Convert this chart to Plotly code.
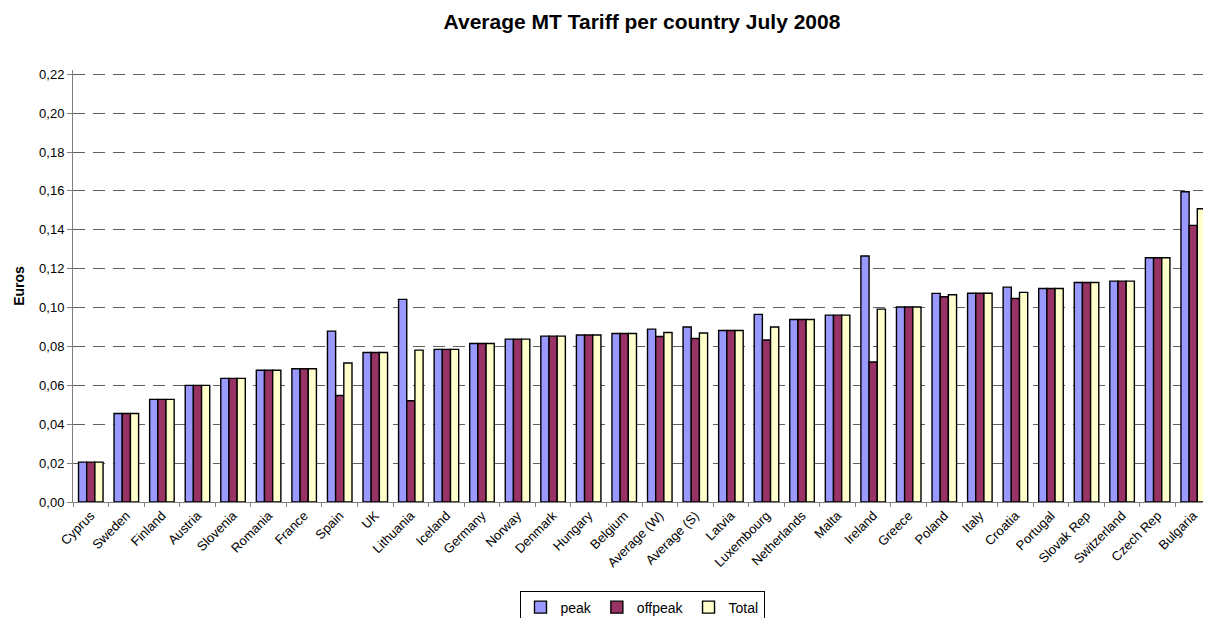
import plotly.graph_objects as go

categories = ["Cyprus", "Sweden", "Finland", "Austria", "Slovenia", "Romania", "France",
              "Spain", "UK", "Lithuania", "Iceland", "Germany", "Norway", "Denmark",
              "Hungary", "Belgium", "Average (W)", "Average (S)", "Latvia", "Luxembourg",
              "Netherlands", "Malta", "Ireland", "Greece", "Poland", "Italy", "Croatia",
              "Portugal", "Slovak Rep", "Switzerland", "Czech Rep", "Bulgaria"]

peak = [0.0205, 0.0455, 0.0528, 0.0600, 0.0636, 0.0678, 0.0685, 0.0879, 0.0769, 0.1042,
        0.0785, 0.0815, 0.0838, 0.0853, 0.0859, 0.0867, 0.0889, 0.0900, 0.0882, 0.0965,
        0.0939, 0.0961, 0.1265, 0.1003, 0.1073, 0.1074, 0.1105, 0.1098, 0.1129, 0.1136,
        0.1256, 0.1596]

offpeak = [0.0205, 0.0455, 0.0528, 0.0600, 0.0636, 0.0678, 0.0685, 0.0548, 0.0769, 0.0521,
           0.0785, 0.0815, 0.0838, 0.0853, 0.0859, 0.0867, 0.0851, 0.0841, 0.0882, 0.0833,
           0.0939, 0.0961, 0.0720, 0.1003, 0.1056, 0.1074, 0.1047, 0.1098, 0.1129, 0.1136,
           0.1256, 0.1423]

total = [0.0205, 0.0455, 0.0528, 0.0600, 0.0636, 0.0678, 0.0685, 0.0715, 0.0769, 0.0781,
         0.0785, 0.0815, 0.0838, 0.0853, 0.0859, 0.0867, 0.0872, 0.0869, 0.0882, 0.0900,
         0.0939, 0.0961, 0.0992, 0.1003, 0.1066, 0.1074, 0.1078, 0.1098, 0.1129, 0.1136,
         0.1256, 0.1508]

series = [("peak", peak, "#9999FF"), ("offpeak", offpeak, "#993366"), ("Total", total, "#FFFFCC")]

FONT = "Liberation Sans, Arial, sans-serif"

# The page body has an 8px default margin; the figure is sized so that it fills the window.
W, H = 1203, 610

fig = go.Figure()
for name, vals, col in series:
    fig.add_trace(go.Bar(
        x=categories, y=vals, name=name,
        marker=dict(color=col, line=dict(color="#000000", width=1.4)),
    ))

fig.update_layout(
    width=W, height=H,
    paper_bgcolor="white", plot_bgcolor="white",
    barmode="group", bargap=0.31, bargroupgap=0,
    separators=", ",
    margin=dict(l=65, r=0, t=62, b=116, autoexpand=False),
    font=dict(family=FONT, size=13, color="#000000"),
    title=dict(text="<b>Average MT Tariff per country July 2008</b>",
               x=0.5, xref="paper", xanchor="center",
               y=1 - 14 / H, yref="container", yanchor="middle",
               font=dict(family=FONT, size=21, color="#000000")),
    legend=dict(orientation="h", x=0.5, xanchor="center", y=-0.205, yanchor="top",
                bordercolor="#000000", borderwidth=1, bgcolor="white",
                font=dict(family=FONT, size=14, color="#000000"),
                itemwidth=30, tracegroupgap=0),
    showlegend=True,
)

fig.update_xaxes(
    type="category", tickson="boundaries",
    showline=True, linecolor="#808080", linewidth=1,
    ticks="outside", ticklen=4, tickcolor="#808080",
    tickangle=-45, tickfont=dict(family=FONT, size=13, color="#000000"),
    showgrid=False, automargin=False,
)

fig.update_yaxes(
    range=[0, 0.2222], dtick=0.02, tick0=0, tickformat=".2f",
    showline=True, linecolor="#808080", linewidth=1,
    ticks="outside", ticklen=5, tickcolor="#808080",
    tickfont=dict(family=FONT, size=13, color="#000000"),
    showgrid=True, gridcolor="#606060", gridwidth=1, griddash="12px,8px",
    zeroline=False, automargin=False,
    title=dict(text="<b>Euros</b>", font=dict(family=FONT, size=14, color="#000000"), standoff=11),
)

fig.write_html("out.html")
